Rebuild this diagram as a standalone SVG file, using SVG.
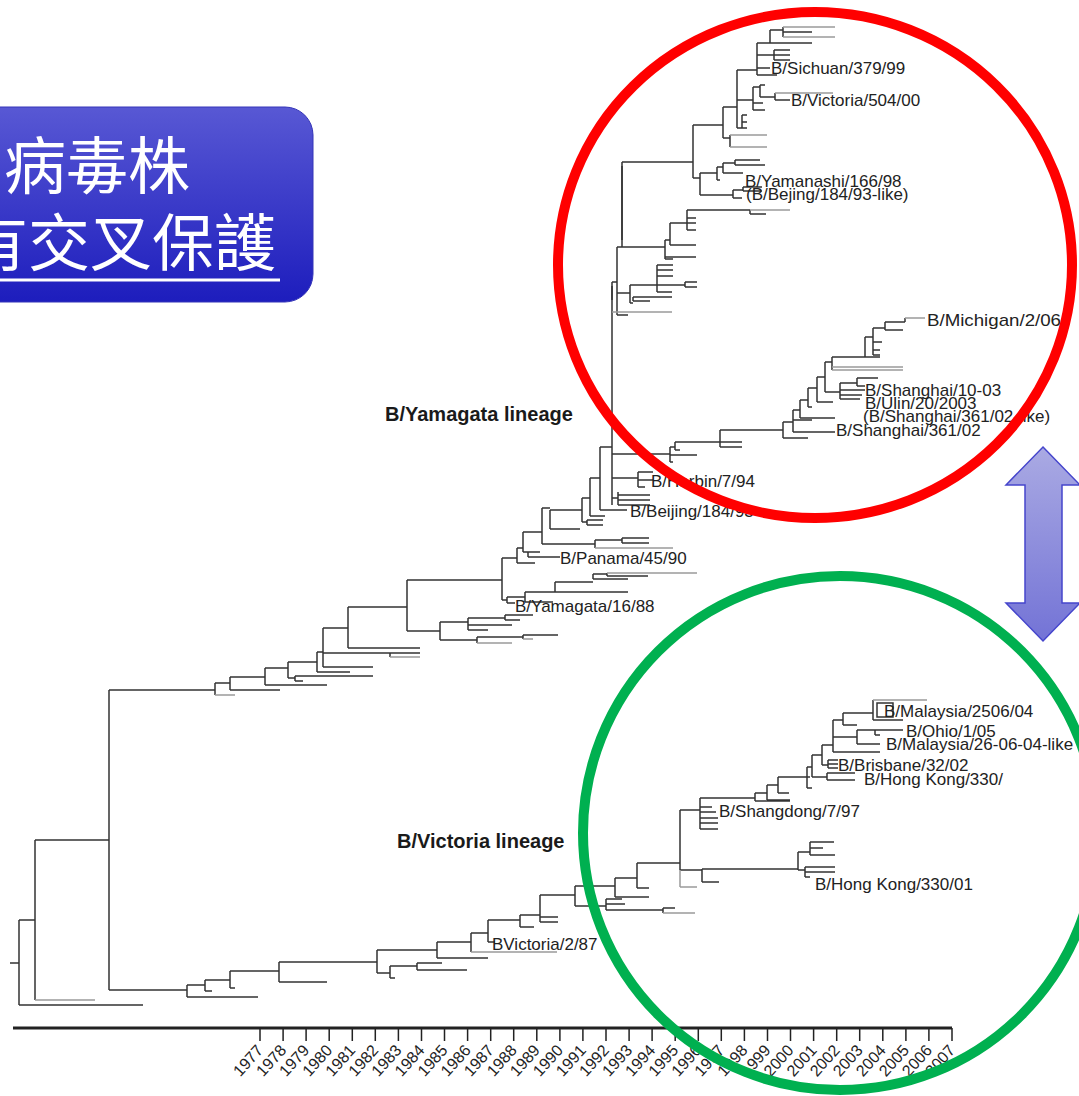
<svg xmlns="http://www.w3.org/2000/svg" width="1079" height="1096" viewBox="0 0 1079 1096">
<defs>
<linearGradient id="boxg" x1="0" y1="0" x2="0" y2="1">
<stop offset="0" stop-color="#5858d4"/>
<stop offset="1" stop-color="#1d1dbd"/>
</linearGradient>
<linearGradient id="arrg" x1="0" y1="0" x2="0" y2="1">
<stop offset="0" stop-color="#aaaae3"/>
<stop offset="1" stop-color="#7373d6"/>
</linearGradient>
<style>
.t{fill:none;stroke:#333;stroke-width:1.5}
.g{fill:none;stroke:#9a9a9a;stroke-width:1.5}
.lb{font-family:"Liberation Sans",Arial,sans-serif;font-size:17px;fill:#222}
.bd{font-family:"Liberation Sans",Arial,sans-serif;font-size:20px;font-weight:bold;fill:#1a1a1a}
.yr{font-family:"Liberation Sans",Arial,sans-serif;font-size:16px;fill:#222;text-anchor:end}
.cjk{font-family:"Noto Sans CJK TC","Noto Sans CJK SC",sans-serif;font-size:62px;fill:#fff}
</style>
</defs>
<rect width="1079" height="1096" fill="#fff"/>

<g id="title">
<rect x="-30" y="107" width="343" height="195" rx="28" fill="url(#boxg)" stroke="#3434b8" stroke-width="1"/>
<text class="cjk" x="4" y="189">病毒株</text>
<text class="cjk" x="-34" y="266">有交叉保護</text>
<line x1="0" y1="280" x2="280" y2="280" stroke="#fff" stroke-width="3"/>
</g>

<g id="tree">
<path class="t" d="M10 963H19
M19 920V1005M19 920H35M19 1005H143
M35 840V1000M35 840H109
M109 690V990M109 690H215M109 990H187
M215 683V695M215 683H230
M230 677V690M230 677H265M230 690H280
M265 668V685M265 668H288M265 685H327
M288 662V678M288 662H317M288 678H295
M295 676V681M295 676H373M295 681H303
M317 652V672M317 652H323M317 672H350
M323 628V667M323 628H348M323 653H390M323 667H373
M390 653V657M390 653H420
M348 607V648M348 607H407M348 648H420
M407 580V631M407 580H502M407 631H440
M440 622V640M440 622H468M440 640H477
M468 618V630M468 618H505M468 625H512M468 630H488
M505 615V620M505 615H533M505 620H520
M477 637V643M477 637H523
M523 635V639M523 635H558
M502 558V600M502 558H517M502 600H507
M507 597V603M507 597H525M507 603H515
M525 592V602M525 592H555M525 602H553
M555 582V592M555 582H593M555 592H628
M593 574V579M593 574H607M593 579H628
M607 573V576M607 576H648
M517 548V563M517 548H523M517 563H535
M523 532V552M523 532H542M523 552H528
M528 552V557M528 552H540M528 557H560
M542 508V544M542 508H550M542 544H595
M595 540V548M595 540H622
M622 538V543M622 538H649M622 543H649
M550 510V529M550 510H582M550 529H580
M582 498V522M582 498H590M582 522H587
M587 520V525M587 520H603M587 525H603
M590 478V516M590 478H600M590 516H605
M600 447V510M600 447H612M600 510H627
M612 282V505M612 282H617M612 454H670M612 478H638M612 498H618
M618 492V505M618 495H650M618 500H650M618 505H650
M638 472V487M638 472H653M638 480H653M638 487H645
M617 247V315M617 247H622M617 293H630M617 315H628
M622 162V247M622 162H693M622 247H665
M693 125V178M693 125H723M693 178H700
M723 107V138M723 107H737M723 138H730
M730 135V147
M737 70V128M737 70H757M737 100H753M737 128H742
M742 115V128M742 115H747M742 122H747M742 128H747
M753 87V110M753 87H760M753 103H763M753 110H765
M760 85V97M760 85H765M760 97H775
M775 93V100M775 100H790
M757 43V75M757 43H770M757 55H774M757 68H770M757 75H777
M774 50V60M774 50H790M774 55H790M774 60H790
M770 30V43M770 30H783M770 43H812
M783 27V37M783 32H812
M700 173V195M700 173H717M700 195H733
M717 167V180M717 167H723M717 180H720
M723 163V173M723 163H735M723 173H743
M735 160V165M735 160H760M735 165H765
M733 190V198M733 190H743M733 198H742
M743 187V191M743 187H762M743 191H762
M665 240V259M665 240H670M665 257H696M665 259H673
M670 223V245M670 223H687M670 245H696
M687 210V230M687 210H750M687 218H696M687 223H696M687 230H696
M750 210V214M750 214H766
M657 265V292M657 265H673M657 270H673M657 276H673M657 285H685M657 292H672
M685 282V287M685 282H697M685 287H697
M630 285V303M630 285H657M630 303H633
M633 297V301M633 297H672M633 301H650
M670 447V462M670 447H675M670 455H697M670 462H673
M675 442V450M675 442H720M675 450H680
M720 430V447M720 430H783M720 442H742M720 447H742
M783 422V438M783 422H793M783 438H808
M793 410V432M793 410H800M793 420H812M793 432H835
M800 400V418M800 400H808M800 418H835
M808 388V407M808 388H817M808 407H812
M817 377V402M817 377H825M817 402H833
M825 362V392M825 362H832M825 392H840
M840 383V399M840 383H857M840 390H865M840 395H862M840 399H860
M857 378V386M857 378H878M857 386H865
M832 357V370M832 357H865
M865 337V357M865 337H873M865 357H880
M873 328V355M873 328H885M873 342H882M873 350H880M873 355H880
M885 322V330M885 322H905M885 330H903
M905 318V322
M187 985V997M187 985H205M187 997H258
M205 980V991M205 980H230M205 991H212
M230 971V988M230 971H279M230 988H235
M279 962V982M279 962H377M279 982H327
M377 950V973M377 950H437M377 973H390
M390 966V978M390 966H417M390 978H395
M417 963V970M417 963H442M417 970H467
M437 942V958M437 942H471M437 958H488
M471 933V952M471 933H488
M488 920V942M488 920H520M488 942H495
M520 915V927M520 915H540M520 927H534
M540 895V922M540 895H575M540 917H558M540 922H558
M575 886V906M575 886H615M575 906H606
M606 899V910M606 899H622M606 904H625M606 910H663
M663 908V913M663 908H675
M615 878V897M615 878H637M615 897H649
M637 863V888M637 863H680M637 888H649
M680 810V870M680 810H700M680 870H702
M700 798V829M700 798H755M700 807H712M700 812H716M700 818H718M700 823H718M700 829H718
M702 869V882M702 869H798M702 882H719
M798 852V870M798 852H810M798 870H805
M810 842V855M810 842H834M810 848H823M810 855H835
M805 867V877M805 867H835M805 872H835M805 877H810
M755 793V801M755 793H767M755 801H790
M767 785V800M767 785H778M767 800H790
M778 777V793M778 777H807M778 793H789
M807 767V788M807 767H812M807 777H810M807 788H812
M812 755V777M812 755H822M812 777H827
M827 773V780M827 773H855M827 780H855
M822 745V765M822 745H833M822 765H828
M828 760V768M828 760H838M828 764H838M828 768H838
M833 720V752M833 720H843M833 737H857M833 752H880
M857 730V744M857 730H875M857 744H880
M875 730V735M875 730H903M875 735H880
M843 713V725M843 713H873M843 725H857
M873 700V720M873 720H903
M877 703H893V717H877Z"/>
<path class="t" stroke-width="2.6" d="M622 166V240M612 286V300"/>
<path class="g" d="M35 1000H95
M215 695H235
M390 657H420
M477 643H512
M523 639H533
M607 573H697
M595 548H673
M612 312H672
M730 135H767M730 147H767
M775 93H833
M783 27H835M783 37H835
M750 210H790
M832 367H903M832 370H903
M905 318H925
M680 870V887M680 887H697
M471 952H557
M663 913H695
M873 700H927"/>
</g>

<g id="labels">
<text class="bd" x="385" y="421">B/Yamagata lineage</text>
<text class="bd" x="397" y="848">B/Victoria lineage</text>
<text class="lb" x="771" y="74">B/Sichuan/379/99</text>
<text class="lb" x="791" y="106">B/Victoria/504/00</text>
<text class="lb" x="745" y="187">B/Yamanashi/166/98</text>
<text class="lb" x="746" y="200">(B/Bejing/184/93-like)</text>
<text class="lb" x="927" y="326" textLength="134" lengthAdjust="spacingAndGlyphs">B/Michigan/2/06</text>
<text class="lb" x="865" y="396">B/Shanghai/10-03</text>
<text class="lb" x="865" y="409">B/Ulin/20/2003</text>
<text class="lb" x="863" y="422">(B/Shanghai/361/02-like)</text>
<text class="lb" x="836" y="436">B/Shanghai/361/02</text>
<text class="lb" x="651" y="487">B/Harbin/7/94</text>
<text class="lb" x="630" y="517">B/Beijing/184/93</text>
<text class="lb" x="560" y="564">B/Panama/45/90</text>
<text class="lb" x="515" y="612">B/Yamagata/16/88</text>
<text class="lb" x="884" y="717">B/Malaysia/2506/04</text>
<text class="lb" x="906" y="737">B/Ohio/1/05</text>
<text class="lb" x="886" y="750">B/Malaysia/26-06-04-like</text>
<text class="lb" x="838" y="771">B/Brisbane/32/02</text>
<text class="lb" x="864" y="785">B/Hong Kong/330/</text>
<text class="lb" x="719" y="817">B/Shangdong/7/97</text>
<text class="lb" x="815" y="890">B/Hong Kong/330/01</text>
<text class="lb" x="492" y="950">BVictoria/2/87</text>
</g>

<g id="axis">
<path fill="none" stroke="#222" stroke-width="3" d="M13 1028H952"/>
<path fill="none" stroke="#222" stroke-width="1.5" d="M260 1028V1041M283.1 1028V1041M306.1 1028V1041M329.2 1028V1041M352.3 1028V1041M375.3 1028V1041M398.4 1028V1041M421.5 1028V1041M444.5 1028V1041M467.6 1028V1041M490.7 1028V1041M513.7 1028V1041M536.8 1028V1041M559.9 1028V1041M582.9 1028V1041M606 1028V1041M629.1 1028V1041M652.1 1028V1041M675.2 1028V1041M698.3 1028V1041M721.3 1028V1041M744.4 1028V1041M767.5 1028V1041M790.5 1028V1041M813.6 1028V1041M836.7 1028V1041M859.7 1028V1041M882.8 1028V1041M905.9 1028V1041M928.9 1028V1041M952 1028V1041"/>
<text class="yr" transform="translate(264,1051) rotate(-48)">1977</text>
<text class="yr" transform="translate(287.1,1051) rotate(-48)">1978</text>
<text class="yr" transform="translate(310.1,1051) rotate(-48)">1979</text>
<text class="yr" transform="translate(333.2,1051) rotate(-48)">1980</text>
<text class="yr" transform="translate(356.3,1051) rotate(-48)">1981</text>
<text class="yr" transform="translate(379.3,1051) rotate(-48)">1982</text>
<text class="yr" transform="translate(402.4,1051) rotate(-48)">1983</text>
<text class="yr" transform="translate(425.5,1051) rotate(-48)">1984</text>
<text class="yr" transform="translate(448.5,1051) rotate(-48)">1985</text>
<text class="yr" transform="translate(471.6,1051) rotate(-48)">1986</text>
<text class="yr" transform="translate(494.7,1051) rotate(-48)">1987</text>
<text class="yr" transform="translate(517.7,1051) rotate(-48)">1988</text>
<text class="yr" transform="translate(540.8,1051) rotate(-48)">1989</text>
<text class="yr" transform="translate(563.9,1051) rotate(-48)">1990</text>
<text class="yr" transform="translate(586.9,1051) rotate(-48)">1991</text>
<text class="yr" transform="translate(610,1051) rotate(-48)">1992</text>
<text class="yr" transform="translate(633.1,1051) rotate(-48)">1993</text>
<text class="yr" transform="translate(656.1,1051) rotate(-48)">1994</text>
<text class="yr" transform="translate(679.2,1051) rotate(-48)">1995</text>
<text class="yr" transform="translate(702.3,1051) rotate(-48)">1996</text>
<text class="yr" transform="translate(725.3,1051) rotate(-48)">1997</text>
<text class="yr" transform="translate(748.4,1051) rotate(-48)">1998</text>
<text class="yr" transform="translate(771.5,1051) rotate(-48)">1999</text>
<text class="yr" transform="translate(794.5,1051) rotate(-48)">2000</text>
<text class="yr" transform="translate(817.6,1051) rotate(-48)">2001</text>
<text class="yr" transform="translate(840.7,1051) rotate(-48)">2002</text>
<text class="yr" transform="translate(863.7,1051) rotate(-48)">2003</text>
<text class="yr" transform="translate(886.8,1051) rotate(-48)">2004</text>
<text class="yr" transform="translate(909.9,1051) rotate(-48)">2005</text>
<text class="yr" transform="translate(932.9,1051) rotate(-48)">2006</text>
<text class="yr" transform="translate(956,1051) rotate(-48)">2007</text>
</g>

<g id="red-circle">
<ellipse cx="815" cy="265" rx="257" ry="253" fill="none" stroke="#ff0000" stroke-width="10"/>
</g>
<g id="green-circle">
<circle cx="840" cy="833" r="257" fill="none" stroke="#00b050" stroke-width="10"/>
</g>
<g id="double-arrow">
<polygon points="1043,447 1080,485 1062,485 1062,603 1080,603 1043,641 1006,603 1025,603 1025,485 1006,485" fill="url(#arrg)" stroke="#4545cc" stroke-width="1.5"/>
</g>
</svg>
